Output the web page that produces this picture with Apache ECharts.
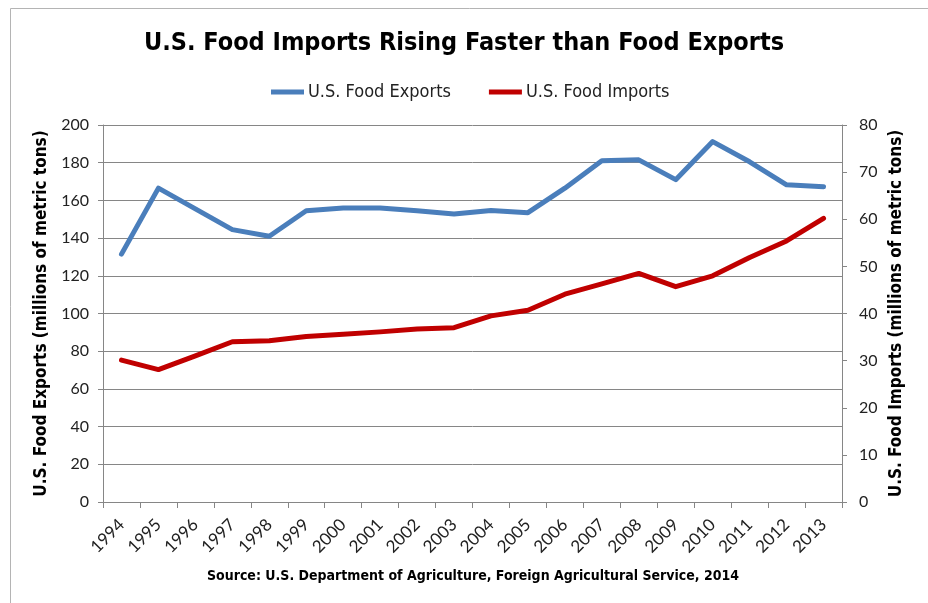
<!DOCTYPE html>
<html>
<head>
<meta charset="utf-8">
<script src="https://cdn.jsdelivr.net/npm/echarts@6/dist/echarts.min.js"></script>
<style>
  html, body { margin: 0; padding: 0; background: #fff; }
  #chart { width: 928px; height: 603px; }
</style>
</head>
<body>
<div id="chart"></div>
<script>
// Years on the category axis
const years = ['1994','1995','1996','1997','1998','1999','2000','2001','2002','2003',
               '2004','2005','2006','2007','2008','2009','2010','2011','2012','2013'];

// U.S. food exports, millions of metric tons (left axis)
const foodExports = [131.5, 166.5, 155.5, 144.5, 141, 154.5, 156, 156, 154.5, 152.8,
                     154.7, 153.5, 166.5, 181, 181.5, 171, 191.2, 180.5, 168.3, 167.2];

// U.S. food imports, millions of metric tons (right axis)
const foodImports = [30.1, 28.1, 31.0, 34.0, 34.2, 35.1, 35.6, 36.1, 36.7, 37.0,
                     39.5, 40.7, 44.1, 46.3, 48.5, 45.7, 48.0, 51.9, 55.4, 60.2];

const narrow = "'Liberation Sans Narrow', 'DejaVu Sans Condensed', sans-serif";
const tickFont = "Lato, 'Open Sans', sans-serif";
const axisGray = '#868686';

const chart = echarts.init(document.getElementById('chart'), null, { renderer: 'canvas' });

chart.setOption({
  animation: false,
  backgroundColor: '#ffffff',
  title: {
    text: 'U.S. Food Imports Rising Faster than Food Exports',
    left: 'center',
    top: 26,
    textStyle: { fontFamily: narrow, fontWeight: 'bold', fontSize: 25, color: '#000' }
  },
  legend: {
    top: 78,
    left: 266,
    itemWidth: 33,
    itemHeight: 5,
    itemGap: 38,
    icon: 'rect',
    textStyle: { fontFamily: narrow, fontSize: 18, color: '#222', padding: [0, 0, 0, -1] },
    data: ['U.S. Food Exports', 'U.S. Food Imports']
  },
  grid: { left: 103, right: 86, top: 125, bottom: 101, containLabel: false },
  xAxis: {
    type: 'category',
    data: years,
    boundaryGap: true,
    axisLine: { show: true, lineStyle: { color: axisGray, width: 1 } },
    axisTick: { show: true, length: 6, lineStyle: { color: axisGray } },
    axisLabel: { rotate: 45, margin: 20, fontFamily: tickFont, fontSize: 17, color: '#222' },
    splitLine: { show: false }
  },
  yAxis: [
    {
      type: 'value',
      min: 0, max: 200, interval: 20,
      name: 'U.S. Food Exports (millions of metric tons)',
      nameLocation: 'middle',
      nameRotate: 90,
      nameGap: 51,
      nameTextStyle: { fontFamily: narrow, fontWeight: 'bold', fontSize: 17, color: '#000' },
      axisLine: { show: true, lineStyle: { color: axisGray, width: 1 } },
      axisTick: { show: true, length: 5, lineStyle: { color: axisGray } },
      axisLabel: { margin: 14, fontFamily: tickFont, fontSize: 16, color: '#222' },
      splitLine: { show: true, lineStyle: { color: axisGray, width: 1 } }
    },
    {
      type: 'value',
      min: 0, max: 80, interval: 10,
      name: 'U.S. Food Imports (millions of metric tons)',
      nameLocation: 'middle',
      nameRotate: 90,
      nameGap: 46,
      nameTextStyle: { fontFamily: narrow, fontWeight: 'bold', fontSize: 17, color: '#000' },
      axisLine: { show: true, lineStyle: { color: axisGray, width: 1 } },
      axisTick: { show: true, length: 5, lineStyle: { color: axisGray } },
      axisLabel: { margin: 17, fontFamily: tickFont, fontSize: 16, color: '#222' },
      splitLine: { show: false }
    }
  ],
  series: [
    {
      name: 'U.S. Food Exports',
      type: 'line',
      yAxisIndex: 0,
      data: foodExports,
      showSymbol: false,
      symbol: 'none',
      color: '#4A7EBB',
      lineStyle: { width: 5, color: '#4A7EBB', cap: 'round', join: 'round' }
    },
    {
      name: 'U.S. Food Imports',
      type: 'line',
      yAxisIndex: 1,
      data: foodImports,
      showSymbol: false,
      symbol: 'none',
      color: '#C00000',
      lineStyle: { width: 5, color: '#C00000', cap: 'round', join: 'round' }
    }
  ],
  graphic: [
    {
      type: 'rect',
      left: 8, top: 6,
      shape: { x: 0, y: 0, width: 960, height: 596 },
      style: { fill: 'none', stroke: '#b4b4b4', lineWidth: 1 },
      silent: true, z: -1
    },
    {
      type: 'text',
      left: 207,
      top: 569,
      style: {
        text: 'Source: U.S. Department of Agriculture, Foreign Agricultural Service, 2014',
        font: "bold 14px 'Liberation Sans Narrow', 'DejaVu Sans Condensed', sans-serif",
        fill: '#000'
      }
    }
  ]
});
</script>
</body>
</html>
